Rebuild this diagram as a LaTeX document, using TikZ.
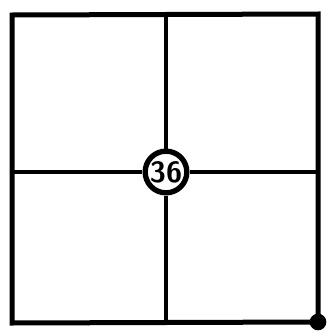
\documentclass[tikz,border=0pt]{standalone}
\usepackage{tikz}
\usetikzlibrary{positioning}

\begin{document}
\begin{tikzpicture}[x=0.03cm, y=-0.03cm,
        frame/.style={line width=0.15cm, line join=miter},
        rule/.style={line width=0.12cm},
        hub/.style={circle, draw, fill=white, line width=0.16cm, minimum size=1.25cm, inner sep=0pt,
                    font=\sffamily\bfseries\fontsize{25}{25}\selectfont},
        dot/.style={circle, fill=black, minimum size=0.5cm, inner sep=0pt}]
    \useasboundingbox (0,0) rectangle (327,331);
    \coordinate (tl) at (12,15);
    \coordinate (tr) at (318,14);
    \coordinate (br) at (318,322);
    \coordinate (bl) at (12,323);
    \coordinate (top) at (166,15);
    \coordinate (bottom) at (166,322);
    \coordinate (left) at (12,172);
    \coordinate (right) at (318,172);
    \draw[frame] (tl) -- (tr) -- (br) -- (bl) -- cycle;
    \node[hub] (hub) at (166,172) {36};
    \draw[rule] (top) -- (hub);
    \draw[rule] (hub) -- (bottom);
    \draw[rule] (left) -- (hub);
    \draw[rule] (hub) -- (right);
    \node[dot] (corner) at (br) {};
\end{tikzpicture}
\end{document}
